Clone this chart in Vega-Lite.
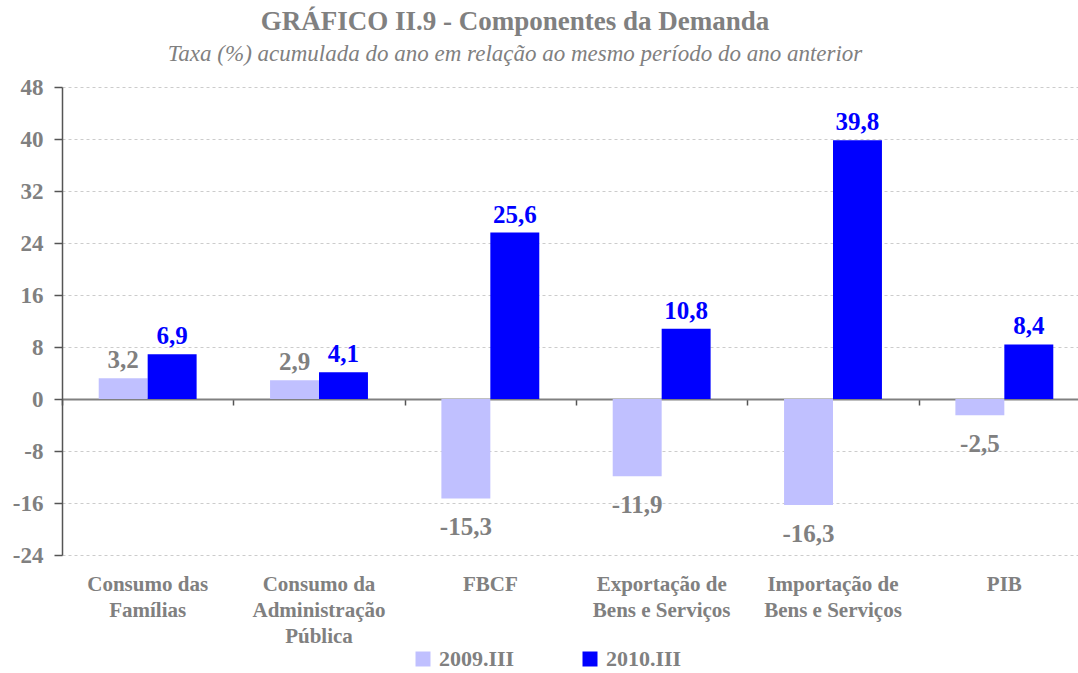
{
  "$schema": "https://vega.github.io/schema/vega-lite/v6.json",
  "width": 1016,
  "height": 468,
  "autosize": {"type": "none"},
  "padding": {"left": 62, "top": 87, "right": 0, "bottom": 118},
  "background": "white",
  "config": {
    "view": {"stroke": null},
    "font": "Liberation Serif",
    "text": {"font": "Liberation Serif"},
    "locale": {
      "number": {"decimal": ",", "thousands": ".", "grouping": [3], "currency": ["R$", ""], "minus": "-"}
    }
  },
  "title": {
    "text": "GRÁFICO II.9 - Componentes da Demanda",
    "subtitle": "Taxa (%) acumulada do ano em relação ao mesmo período do ano anterior",
    "font": "Liberation Serif",
    "fontSize": 27,
    "fontWeight": "bold",
    "color": "#808080",
    "subtitleFont": "Liberation Serif",
    "subtitleFontSize": 23,
    "subtitleFontStyle": "italic",
    "subtitleColor": "#808080",
    "subtitlePadding": 7,
    "anchor": "middle",
    "frame": "group",
    "dx": -55,
    "offset": 9
  },
  "data": {
    "values": [
      {"categoria": "Consumo das Famílias", "serie": "2009.III", "valor": 3.2},
      {"categoria": "Consumo das Famílias", "serie": "2010.III", "valor": 6.9},
      {"categoria": "Consumo da Administração Pública", "serie": "2009.III", "valor": 2.9},
      {"categoria": "Consumo da Administração Pública", "serie": "2010.III", "valor": 4.1},
      {"categoria": "FBCF", "serie": "2009.III", "valor": -15.3},
      {"categoria": "FBCF", "serie": "2010.III", "valor": 25.6},
      {"categoria": "Exportação de Bens e Serviços", "serie": "2009.III", "valor": -11.9},
      {"categoria": "Exportação de Bens e Serviços", "serie": "2010.III", "valor": 10.8},
      {"categoria": "Importação de Bens e Serviços", "serie": "2009.III", "valor": -16.3},
      {"categoria": "Importação de Bens e Serviços", "serie": "2010.III", "valor": 39.8},
      {"categoria": "PIB", "serie": "2009.III", "valor": -2.5},
      {"categoria": "PIB", "serie": "2010.III", "valor": 8.4}
    ]
  },
  "encoding": {
    "x": {
      "field": "categoria",
      "type": "nominal",
      "sort": null,
      "scale": {"range": [0, 1028], "paddingInner": 0, "paddingOuter": 0}
    },
    "xOffset": {
      "field": "serie",
      "type": "nominal",
      "scale": {"paddingOuter": 0.75, "paddingInner": 0}
    },
    "y": {
      "field": "valor",
      "type": "quantitative",
      "title": null,
      "scale": {"domain": [-24, 48], "nice": false, "zero": false},
      "axis": {
        "values": [-24, -16, -8, 0, 8, 16, 24, 32, 40, 48],
        "format": "d",
        "grid": true,
        "gridColor": "#cccccc",
        "gridDash": [3, 3],
        "gridWidth": 1,
        "domain": true,
        "domainColor": "#555555",
        "domainWidth": 1.5,
        "tickColor": "#555555",
        "tickSize": 8,
        "tickWidth": 1.5,
        "labelPadding": 11,
        "labelFont": "Liberation Serif",
        "labelFontWeight": "bold",
        "labelFontSize": 23,
        "labelColor": "#808080"
      }
    }
  },
  "layer": [
    {
      "mark": {"type": "bar"},
      "encoding": {
        "x": {
          "field": "categoria",
          "type": "nominal",
          "sort": null,
          "title": null,
          "axis": {
            "orient": "bottom",
            "domain": false,
            "ticks": false,
            "grid": false,
            "labelAngle": 0,
            "labelFont": "Liberation Serif",
            "labelFontWeight": "bold",
            "labelFontSize": 21,
            "labelColor": "#808080",
            "labelPadding": 18,
            "labelLimit": 0,
            "labelLineHeight": 26,
            "labelBaseline": "top",
            "labelExpr": "datum.label == 'Consumo das Famílias' ? ['Consumo das', 'Famílias'] : datum.label == 'Consumo da Administração Pública' ? ['Consumo da', 'Administração', 'Pública'] : datum.label == 'Exportação de Bens e Serviços' ? ['Exportação de', 'Bens e Serviços'] : datum.label == 'Importação de Bens e Serviços' ? ['Importação de', 'Bens e Serviços'] : datum.label"
          }
        },
        "color": {
          "field": "serie",
          "type": "nominal",
          "scale": {"domain": ["2009.III", "2010.III"], "range": ["#C0C0FF", "#0000FF"]},
          "legend": {
            "title": null,
            "orient": "none",
            "legendX": 350,
            "legendY": 561,
            "direction": "horizontal",
            "symbolType": "square",
            "symbolSize": 225,
            "symbolStrokeWidth": 0,
            "labelFont": "Liberation Serif",
            "labelFontWeight": "bold",
            "labelFontSize": 22,
            "labelColor": "#808080",
            "labelOffset": 5,
            "columnPadding": 64
          }
        }
      }
    },
    {
      "mark": {"type": "text", "font": "Liberation Serif", "fontWeight": "bold", "fontSize": 25, "baseline": "alphabetic", "dy": -10},
      "transform": [{"filter": "datum.valor >= 0"}],
      "encoding": {
        "x": {
          "field": "categoria",
          "type": "nominal",
          "sort": null,
          "title": null,
          "axis": {
            "orient": "bottom",
            "offset": -156,
            "labels": false,
            "grid": false,
            "domain": true,
            "domainColor": "#808080",
            "domainWidth": 2,
            "ticks": true,
            "tickBand": "extent",
            "tickColor": "#555555",
            "tickSize": 6,
            "tickWidth": 1.5
          }
        },
        "text": {"field": "valor", "type": "quantitative", "format": ".1f"},
        "color": {
          "field": "serie",
          "type": "nominal",
          "scale": {"domain": ["2009.III", "2010.III"], "range": ["#808080", "#0000FF"]},
          "legend": null
        }
      }
    },
    {
      "mark": {"type": "text", "font": "Liberation Serif", "fontWeight": "bold", "fontSize": 25, "baseline": "top", "dy": 17},
      "transform": [{"filter": "datum.valor < 0"}],
      "encoding": {
        "x": {"field": "categoria", "type": "nominal", "sort": null, "axis": null},
        "text": {"field": "valor", "type": "quantitative", "format": ".1f"},
        "color": {
          "field": "serie",
          "type": "nominal",
          "scale": {"domain": ["2009.III", "2010.III"], "range": ["#808080", "#0000FF"]},
          "legend": null
        }
      }
    }
  ],
  "resolve": {"axis": {"x": "independent"}, "scale": {"color": "independent"}}
}
